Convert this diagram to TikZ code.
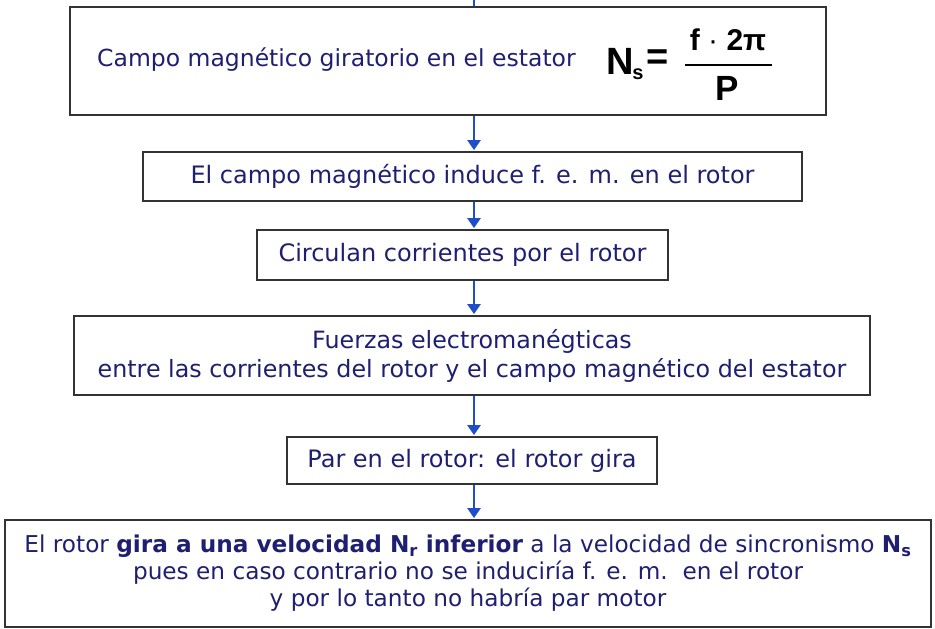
\documentclass[tikz,border=0pt]{standalone}
\usepackage{fontspec}
\setmainfont{DejaVu Sans}
\newfontfamily\formfont{Liberation Sans}
\usetikzlibrary{arrows.meta}
\definecolor{txt}{HTML}{1F1F72}
\definecolor{arrc}{HTML}{1F4FC8}
\definecolor{framec}{HTML}{333333}
\tikzset{
  boxnode/.style={draw=framec, line width=1.8pt, inner sep=0pt, align=center,
    text=txt, font=\fontsize{24}{27}\selectfont},
  plain/.style={inner sep=0pt, text=txt, font=\fontsize{23.5}{27}\selectfont},
  flow/.style={draw=arrc, line width=2.8pt, shorten >=1pt,
    -{Triangle[length=10pt,width=13pt]}},
  feed/.style={draw=arrc, line width=2.8pt},
  form/.style={inner sep=0pt, text=black, font=\formfont\bfseries\fontsize{#1}{#1}\selectfont},
}
\begin{document}
\begin{tikzpicture}[x=1pt,y=-1pt]
\useasboundingbox (0,0) rectangle (935,629);
% boxes
\node[boxnode, minimum width=756pt, minimum height=108pt] (b1) at (448,61) {};
\node[boxnode, minimum width=659pt, minimum height=49pt] (b2) at (472.5,176.5)
  {El campo magnético induce f. e. m. en el rotor};
\node[boxnode, minimum width=411pt, minimum height=50pt] (b3) at (462.5,255)
  {Circulan corrientes por el rotor};
\node[boxnode, minimum width=796pt, minimum height=79pt, font=\fontsize{23.8}{29}\selectfont] (b4) at (472,355.5)
  {Fuerzas electromanégticas\\entre las corrientes del rotor y el campo magnético del estator};
\node[boxnode, minimum width=370pt, minimum height=47pt] (b5) at (472,460.5)
  {Par en el rotor: el rotor gira};
\node[boxnode, minimum width=926pt, minimum height=107pt, font=\fontsize{23.2}{27}\selectfont] (b6) at (468,573.5)
  {El rotor \textbf{gira a una velocidad N\textsubscript{r} inferior} a la velocidad de sincronismo \textbf{N\textsubscript{s}}\\
   pues en caso contrario no se induciría f. e. m.\ \ en el rotor\\
   y por lo tanto no habría par motor};
% text of first box
\node[plain, anchor=west] (t1) at (97,60) {Campo magnético giratorio en el estator};
\node[form=38] (fN) at (620,61.5) {N};
\node[form=20] (fs) at (638,74) {s};
\node[form=38] (feq) at (658,60) {=};
\node[fill=black, inner sep=0pt, minimum width=87pt, minimum height=2.5pt] (fbar) at (728.5,65) {};
\node[form=30] (fnum) at (728,40) {f {\mdseries·} 2π};
\node[form=35] (fden) at (727,88) {P};
% arrows
\coordinate (ax) at (474,0);
\coordinate (in) at (474,-4);
\draw[feed] (in) -- (b1.north -| ax);
\draw[flow] (b1.south -| ax) -- (b2.north -| ax);
\draw[flow] (b2.south -| ax) -- (b3.north -| ax);
\draw[flow] (b3.south -| ax) -- (b4.north -| ax);
\draw[flow] (b4.south -| ax) -- (b5.north -| ax);
\draw[flow] (b5.south -| ax) -- (b6.north -| ax);
\end{tikzpicture}
\end{document}
